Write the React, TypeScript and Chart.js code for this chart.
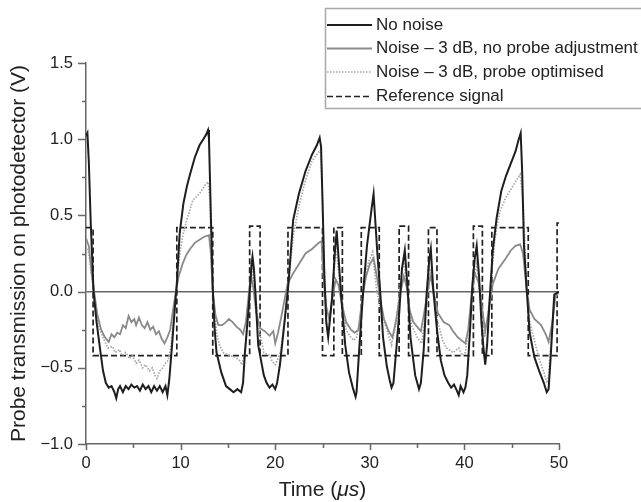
import React, { useEffect, useRef } from 'react';
import { Chart, registerables } from 'chart.js';

Chart.register(...registerables);

// ---------- DATA ----------
const noNoiseT = [0, 0.15, 0.3, 0.5, 0.8, 1.1, 1.45, 1.8, 2.1, 2.4, 2.7, 3.0, 3.2, 3.4, 3.6, 3.9, 4.2, 4.5, 4.8, 5.1, 5.4, 5.7, 6.0, 6.3, 6.6, 6.9, 7.2, 7.5, 7.8, 8.1, 8.4, 8.6, 8.8, 9.1, 9.4, 9.6, 9.9, 10.3, 10.7, 11.0, 11.5, 12.0, 12.4, 12.7, 12.9, 13.0, 13.2, 13.4, 13.6, 13.8, 14.3, 14.8, 15.2, 15.6, 16.0, 16.4, 16.6, 16.8, 17.2, 17.5, 17.6, 17.75, 17.9, 18.2, 18.8, 19.1, 19.4, 19.7, 20.0, 20.2, 20.5, 21.0, 21.4, 21.9, 22.5, 23.2, 23.9, 24.4, 24.7, 24.85, 25.0, 25.2, 25.4, 25.6, 26.0, 26.3, 26.5, 26.7, 27.0, 27.4, 27.8, 28.2, 28.5, 28.6, 28.9, 29.3, 29.7, 30.2, 30.4, 30.8, 31.1, 31.4, 31.8, 32.1, 32.3, 32.5, 32.8, 33.1, 33.4, 33.7, 34.0, 34.3, 34.8, 35.2, 35.4, 35.7, 36.0, 36.3, 36.45, 36.7, 37.1, 37.5, 37.9, 38.3, 38.6, 38.9, 39.2, 39.4, 39.6, 39.9, 40.1, 40.3, 40.6, 40.85, 41.1, 41.3, 41.55, 41.8, 42.0, 42.2, 42.4, 42.7, 43.0, 43.4, 43.9, 44.4, 44.9, 45.4, 45.7, 45.95, 46.1, 46.3, 46.6, 46.9, 47.4, 47.9, 48.4, 48.7, 48.9, 49.1, 49.5, 50.0];
const noNoiseV = [1.02, 1.04, 0.85, 0.45, 0.0, -0.19, -0.36, -0.52, -0.6, -0.63, -0.62, -0.66, -0.7, -0.64, -0.62, -0.66, -0.62, -0.64, -0.61, -0.63, -0.62, -0.65, -0.61, -0.64, -0.62, -0.66, -0.62, -0.65, -0.62, -0.66, -0.62, -0.68, -0.58, -0.35, -0.1, 0.05, 0.38, 0.58, 0.7, 0.77, 0.88, 0.96, 1.0, 1.03, 1.06, 1.0, 0.5, 0.02, -0.25, -0.4, -0.53, -0.62, -0.64, -0.66, -0.64, -0.66, -0.6, -0.4, -0.1, 0.18, 0.23, 0.15, 0.0, -0.35, -0.55, -0.6, -0.63, -0.61, -0.64, -0.6, -0.48, -0.19, 0.05, 0.47, 0.64, 0.79, 0.9, 0.96, 1.01, 0.95, 0.6, 0.1, -0.2, -0.3, -0.05, 0.25, 0.4, 0.22, -0.05, -0.35, -0.53, -0.63, -0.69, -0.66, -0.36, 0.0, 0.3, 0.55, 0.64, 0.25, 0.0, -0.3, -0.49, -0.58, -0.63, -0.6, -0.38, -0.15, 0.15, 0.27, 0.02, -0.3, -0.55, -0.64, -0.6, -0.38, -0.02, 0.22, 0.28, 0.02, -0.25, -0.45, -0.55, -0.6, -0.63, -0.61, -0.65, -0.68, -0.62, -0.66, -0.63, -0.55, -0.25, 0.05, 0.22, 0.3, 0.1, -0.2, -0.36, -0.48, -0.35, -0.02, 0.27, 0.48, 0.66, 0.76, 0.84, 0.92, 0.99, 1.04, 0.8, 0.3, 0.0, -0.27, -0.43, -0.52, -0.6, -0.66, -0.64, -0.45, -0.02, 0.0];

const noProbeT = [0, 0.3, 0.6, 0.9, 1.2, 1.6, 2.0, 2.4, 2.7, 3.0, 3.3, 3.6, 3.9, 4.2, 4.5, 4.8, 5.1, 5.3, 5.6, 5.9, 6.2, 6.5, 6.8, 7.1, 7.4, 7.7, 8.0, 8.3, 8.6, 8.9, 9.2, 9.5, 9.8, 10.2, 10.6, 11.0, 11.5, 12.0, 12.5, 13.0, 13.2, 13.4, 13.7, 14.0, 14.4, 14.8, 15.1, 15.5, 15.9, 16.3, 16.6, 16.9, 17.2, 17.45, 17.7, 18.0, 18.4, 18.9, 19.4, 19.8, 20.0, 20.3, 20.6, 21.0, 21.3, 21.9, 22.5, 23.2, 23.9, 24.6, 24.9, 25.1, 25.4, 25.7, 26.0, 26.4, 26.7, 27.1, 27.5, 28.0, 28.4, 28.8, 29.2, 29.6, 30.0, 30.4, 30.8, 31.1, 31.5, 32.0, 32.4, 32.8, 33.2, 33.6, 33.9, 34.2, 34.6, 35.0, 35.4, 35.8, 36.2, 36.45, 36.8, 37.2, 37.8, 38.4, 38.8, 39.3, 39.7, 40.1, 40.4, 40.8, 41.1, 41.5, 41.9, 42.2, 42.5, 43.0, 43.6, 44.4, 44.9, 45.4, 45.9, 46.2, 46.6, 46.9, 47.4, 48.1, 48.6, 48.9, 49.3, 49.6, 50.0];
const noProbeV = [0.35, 0.3, 0.12, -0.02, -0.15, -0.25, -0.3, -0.33, -0.28, -0.3, -0.27, -0.28, -0.22, -0.24, -0.16, -0.2, -0.18, -0.22, -0.17, -0.22, -0.24, -0.2, -0.25, -0.23, -0.28, -0.26, -0.31, -0.34, -0.3, -0.25, -0.12, 0.0, 0.1, 0.18, 0.24, 0.28, 0.32, 0.34, 0.36, 0.37, 0.25, 0.0, -0.16, -0.22, -0.22, -0.2, -0.18, -0.2, -0.23, -0.25, -0.28, -0.2, -0.02, 0.1, 0.02, -0.14, -0.24, -0.26, -0.29, -0.26, -0.34, -0.27, -0.18, -0.05, 0.05, 0.12, 0.18, 0.25, 0.28, 0.32, 0.33, 0.1, -0.1, -0.18, -0.06, 0.08, 0.04, -0.1, -0.2, -0.25, -0.27, -0.25, -0.05, 0.1, 0.18, 0.22, 0.08, -0.05, -0.18, -0.26, -0.3, -0.18, -0.02, 0.1, 0.03, -0.12, -0.2, -0.23, -0.26, -0.12, 0.04, 0.1, -0.02, -0.14, -0.2, -0.22, -0.26, -0.3, -0.32, -0.34, -0.25, 0.0, 0.12, 0.06, -0.12, -0.26, -0.15, 0.05, 0.15, 0.22, 0.27, 0.3, 0.31, 0.25, 0.0, -0.12, -0.18, -0.22, -0.28, -0.33, -0.2, -0.04, 0.0];

const optimisedT = [0, 0.3, 0.6, 0.9, 1.3, 1.8, 2.3, 2.8, 3.1, 3.5, 3.8, 4.2, 4.6, 4.9, 5.3, 5.6, 6.0, 6.3, 6.7, 7.0, 7.3, 7.5, 7.8, 8.1, 8.4, 8.7, 9.0, 9.3, 9.5, 9.9, 10.2, 10.7, 11.3, 11.8, 12.2, 12.6, 12.9, 13.1, 13.25, 13.4, 13.8, 14.1, 14.5, 15.1, 15.8, 16.2, 16.5, 16.8, 17.2, 17.55, 17.9, 18.2, 18.8, 19.4, 19.7, 20.0, 20.3, 20.6, 21.0, 21.4, 21.9, 22.5, 23.2, 23.9, 24.4, 24.8, 25.0, 25.2, 25.4, 25.6, 26.0, 26.4, 26.6, 26.9, 27.5, 28.0, 28.3, 28.6, 29.0, 29.4, 29.9, 30.3, 30.7, 31.3, 31.8, 32.3, 32.8, 33.3, 33.6, 34.0, 34.4, 35.0, 35.5, 36.0, 36.4, 36.7, 37.2, 37.7, 38.1, 38.8, 39.4, 39.8, 40.1, 40.6, 41.0, 41.3, 41.7, 42.1, 42.5, 42.9, 43.2, 43.7, 44.4, 45.1, 45.6, 45.9, 46.2, 46.6, 46.9, 47.4, 47.9, 48.4, 48.7, 48.9, 49.1, 49.5, 50.0];
const optimisedV = [0.3, 0.25, 0.1, -0.05, -0.22, -0.3, -0.37, -0.36, -0.4, -0.38, -0.42, -0.4, -0.44, -0.42, -0.47, -0.45, -0.5, -0.48, -0.52, -0.5, -0.55, -0.57, -0.52, -0.5, -0.47, -0.45, -0.35, -0.12, 0.0, 0.24, 0.36, 0.48, 0.6, 0.63, 0.66, 0.7, 0.72, 0.6, 0.2, 0.0, -0.27, -0.35, -0.4, -0.42, -0.43, -0.45, -0.48, -0.4, -0.12, 0.15, 0.0, -0.22, -0.4, -0.42, -0.46, -0.48, -0.44, -0.38, -0.18, 0.06, 0.36, 0.56, 0.73, 0.86, 0.9, 0.93, 0.6, 0.1, -0.2, -0.28, -0.05, 0.28, 0.2, 0.0, -0.25, -0.3, -0.32, -0.3, -0.18, 0.08, 0.2, 0.26, 0.02, -0.16, -0.25, -0.35, -0.2, 0.1, 0.2, 0.0, -0.22, -0.3, -0.34, -0.08, 0.15, 0.0, -0.2, -0.32, -0.37, -0.4, -0.37, -0.42, -0.4, -0.18, 0.08, 0.18, -0.05, -0.3, -0.15, 0.12, 0.33, 0.52, 0.62, 0.69, 0.74, 0.77, 0.6, 0.0, -0.2, -0.32, -0.44, -0.53, -0.6, -0.55, -0.38, -0.03, 0.0];

const refT = [0, 0.75, 9.6, 13.4, 17.3, 18.4, 21.35, 25.0, 26.2, 27.1, 29.1, 31.0, 33.1, 34.1, 36.2, 37.1, 40.95, 41.9, 42.9, 46.75, 49.8, 50.0];
const refV = [0.42, -0.42, 0.42, -0.42, 0.43, -0.42, 0.42, -0.42, 0.42, -0.42, 0.42, -0.42, 0.43, -0.42, 0.42, -0.42, 0.43, -0.42, 0.42, -0.42, 0.45, 0.45];

const seriesLabels = ['No noise', 'Noise \u2013 3 dB, no probe adjustment', 'Noise \u2013 3 dB, probe optimised', 'Reference signal'];
const xTitleParts = ['Time (', '\u03bcs', ')'];
const yTitle = 'Probe transmission on photodetector (V)';
const xMin = 0, xMax = 50, xStep = 5, xMajor = 10;
const yMin = -1.0, yMax = 1.5, yStep = 0.25, yMajor = 0.5;

const FONT = '"Liberation Sans", Arial, Helvetica, sans-serif';

function pts(t: number[], v: number[]) {
  return t.map((x, i) => ({ x, y: v[i] }));
}

function isMult(v: number, m: number) {
  const r = v / m;
  return Math.abs(r - Math.round(r)) < 1e-6;
}

const decor = {
  id: 'decor',
  afterDraw(chart: any) {
    const { ctx, chartArea } = chart;
    const xs = chart.scales.x;
    const ys = chart.scales.y;
    ctx.save();
    ctx.strokeStyle = '#666';
    ctx.lineWidth = 1.5;
    ys.ticks.forEach((t: any) => {
      const py = Math.round(ys.getPixelForValue(t.value)) + 0.5;
      const len = isMult(t.value, yMajor) ? 8 : 4;
      ctx.beginPath();
      ctx.moveTo(chartArea.left, py);
      ctx.lineTo(chartArea.left - len, py);
      ctx.stroke();
    });
    xs.ticks.forEach((t: any) => {
      const px = Math.round(xs.getPixelForValue(t.value)) + 0.5;
      const len = isMult(t.value, xMajor) ? 6 : 4;
      ctx.beginPath();
      ctx.moveTo(px, chartArea.bottom);
      ctx.lineTo(px, chartArea.bottom + len);
      ctx.stroke();
    });

    // titles
    ctx.fillStyle = '#222';
    ctx.font = '21px ' + FONT;
    ctx.save();
    ctx.translate(25, (chartArea.top + chartArea.bottom) / 2);
    ctx.rotate(-Math.PI / 2);
    ctx.textAlign = 'center';
    ctx.textBaseline = 'alphabetic';
    ctx.fillText(yTitle, 0, 0);
    ctx.restore();

    const fonts = ['21px ' + FONT, 'italic 21px ' + FONT, '21px ' + FONT];
    let total = 0;
    const widths = xTitleParts.map((p, i) => {
      ctx.font = fonts[i];
      const w = ctx.measureText(p).width;
      total += w;
      return w;
    });
    let cx = (chartArea.left + chartArea.right) / 2 - total / 2;
    ctx.textAlign = 'left';
    ctx.textBaseline = 'alphabetic';
    xTitleParts.forEach((p, i) => {
      ctx.font = fonts[i];
      ctx.fillText(p, cx, 496);
      cx += widths[i];
    });

    // legend
    const bx = 325, by = 8, bw = 340, bh = 100;
    ctx.fillStyle = '#ffffff';
    ctx.fillRect(bx, by, bw, bh);
    ctx.strokeStyle = '#a8a8a8';
    ctx.lineWidth = 1.5;
    ctx.setLineDash([]);
    ctx.strokeRect(bx + 0.5, by + 0.5, bw, bh);
    const rows = [25, 48.5, 72, 96.5];
    chart.data.datasets.forEach((ds: any, i: number) => {
      const ry = rows[i];
      ctx.save();
      ctx.strokeStyle = ds.borderColor;
      ctx.lineWidth = ds.borderWidth;
      ctx.setLineDash(ds.borderDash || []);
      ctx.beginPath();
      ctx.moveTo(327, ry);
      ctx.lineTo(372, ry);
      ctx.stroke();
      ctx.restore();
      ctx.fillStyle = '#222';
      ctx.font = '17px ' + FONT;
      ctx.textAlign = 'left';
      ctx.textBaseline = 'middle';
      ctx.fillText(ds.label, 376, ry);
    });
    ctx.restore();
  },
};

export default function App() {
  const ref = useRef<HTMLCanvasElement | null>(null);
  useEffect(() => {
    document.body.style.margin = '0';
    const canvas = ref.current;
    if (!canvas) return;
    const chart = new Chart(canvas, {
      type: 'line',
      data: {
        datasets: [
          {
            label: seriesLabels[0],
            data: pts(noNoiseT, noNoiseV),
            borderColor: '#1e1e1e',
            borderWidth: 2,
            pointRadius: 0,
            tension: 0,
          },
          {
            label: seriesLabels[1],
            data: pts(noProbeT, noProbeV),
            borderColor: '#8a8a8a',
            borderWidth: 1.8,
            pointRadius: 0,
            tension: 0,
          },
          {
            label: seriesLabels[2],
            data: pts(optimisedT, optimisedV),
            borderColor: '#a6a6a6',
            borderWidth: 1.7,
            borderDash: [1.5, 1.5],
            pointRadius: 0,
            tension: 0,
          },
          {
            label: seriesLabels[3],
            data: pts(refT, refV),
            borderColor: '#222222',
            borderWidth: 1.7,
            borderDash: [6, 3],
            stepped: 'before',
            pointRadius: 0,
          },
        ],
      },
      options: {
        animation: false,
        responsive: false,
        devicePixelRatio: 1,
        layout: { padding: { top: 63, right: 82, left: 0, bottom: 0 } },
        plugins: { legend: { display: false }, tooltip: { enabled: false } },
        scales: {
          x: {
            type: 'linear',
            min: xMin,
            max: xMax,
            afterFit: (s: any) => { s.height = 58; },
            ticks: {
              stepSize: xStep,
              autoSkip: false,
              maxRotation: 0,
              padding: 10,
              color: '#222',
              font: { family: FONT, size: 16.5 },
              callback: (v: any) => (isMult(Number(v), xMajor) ? String(v) : ''),
            },
            grid: { display: false, drawTicks: false },
            border: { display: true, color: '#666', width: 1.5 },
          },
          y: {
            type: 'linear',
            min: yMin,
            max: yMax,
            afterFit: (s: any) => { s.width = 86; },
            ticks: {
              stepSize: yStep,
              autoSkip: false,
              padding: 13,
              color: '#222',
              font: { family: FONT, size: 16.5 },
              callback: (v: any) => {
                const n = Number(v);
                if (!isMult(n, yMajor)) return '';
                return n.toFixed(1).replace('-', '\u2212');
              },
            },
            grid: {
              drawTicks: false,
              lineWidth: 1.5,
              color: (c: any) => (c.tick && Math.abs(c.tick.value) < 1e-9 ? '#666' : 'rgba(0,0,0,0)'),
            },
            border: { display: true, color: '#666', width: 1.5 },
          },
        },
      },
      plugins: [decor],
    });
    return () => chart.destroy();
  }, []);
  return (
    <div style={{ width: 641, height: 502 }}>
      <canvas ref={ref} width={641} height={502} style={{ width: 641, height: 502, display: 'block' }} />
    </div>
  );
}
